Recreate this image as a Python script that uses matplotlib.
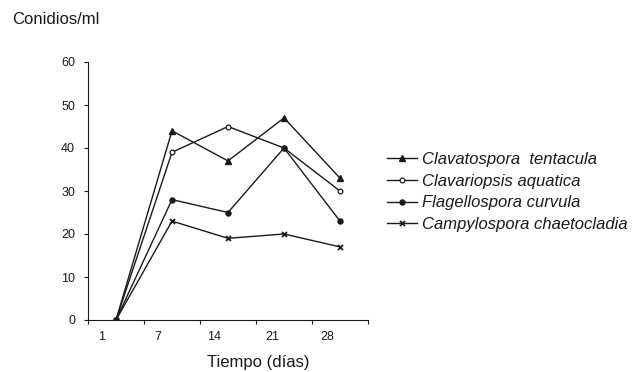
import matplotlib
matplotlib.use('Agg')
import matplotlib.pyplot as plt

plt.rcParams['font.family'] = ['Liberation Sans', 'DejaVu Sans']

# sampling points (category axis) and tick labels
days = [0, 1, 2, 3, 4]
tick_labels = ['1', '7', '14', '21', '28']

clavatospora = [0, 44, 37, 47, 33]
clavariopsis = [0, 39, 45, 40, 30]
flagellospora = [0, 28, 25, 40, 23]
campylospora = [0, 23, 19, 20, 17]

INK = '#1a1a1a'

fig = plt.figure(figsize=(6.38, 3.72), dpi=100)
ax = fig.add_axes([88 / 638, 1 - 320 / 372, 280 / 638, 258 / 372])

lw = 1.0
ax.plot(days, clavatospora, color=INK, lw=lw, marker='^', ms=4.2,
        mfc=INK, mec=INK, label='Clavatospora  tentacula')
ax.plot(days, clavariopsis, color=INK, lw=lw, marker='o', ms=3.4,
        mfc='white', mec=INK, mew=0.9, label='Clavariopsis aquatica')
ax.plot(days, flagellospora, color=INK, lw=lw, marker='o', ms=3.6,
        mfc=INK, mec=INK, label='Flagellospora curvula')
ax.plot(days, campylospora, color=INK, lw=lw, marker='x', ms=3.6,
        mec=INK, mew=1.3, label='Campylospora chaetocladia')

ax.set_xlim(-0.5, 4.5)
ax.set_ylim(0, 60)
ax.set_yticks(range(0, 61, 10))

# tick marks on category boundaries, labels offset as in the original
ax.set_xticks([-0.5, 0.5, 1.5, 2.5, 3.5, 4.5])
ax.set_xticklabels([])
for pos, lab in zip([-0.25, 0.75, 1.75, 2.8, 3.77], tick_labels):
    ax.text(pos, -0.065, lab, transform=ax.get_xaxis_transform(),
            ha='center', va='center', fontsize=9, color=INK)

for side in ['top', 'right']:
    ax.spines[side].set_visible(False)
for side in ['left', 'bottom']:
    ax.spines[side].set_color(INK)
    ax.spines[side].set_linewidth(0.8)
ax.tick_params(axis='both', direction='out', length=3, width=0.8,
               color=INK, labelsize=9, labelcolor=INK)
ax.tick_params(axis='y', pad=6.3)

fig.text(258 / 638, 1 - 363 / 372, 'Tiempo (días)', fontsize=12, color=INK,
         ha='center', va='center')
fig.text(12 / 638, 1 - 20 / 372, 'Conidios/ml', fontsize=12, color=INK,
         ha='left', va='center')

leg = ax.legend(loc='center left', bbox_to_anchor=(387 / 638, 1 - 192 / 372),
                bbox_transform=fig.transFigure, frameon=False,
                prop={'size': 12, 'style': 'italic'}, handlelength=1.8,
                handletextpad=0.3, labelspacing=0.4, borderpad=0,
                borderaxespad=0)
for t in leg.get_texts():
    t.set_color(INK)

fig.savefig('out.png', dpi=100)
